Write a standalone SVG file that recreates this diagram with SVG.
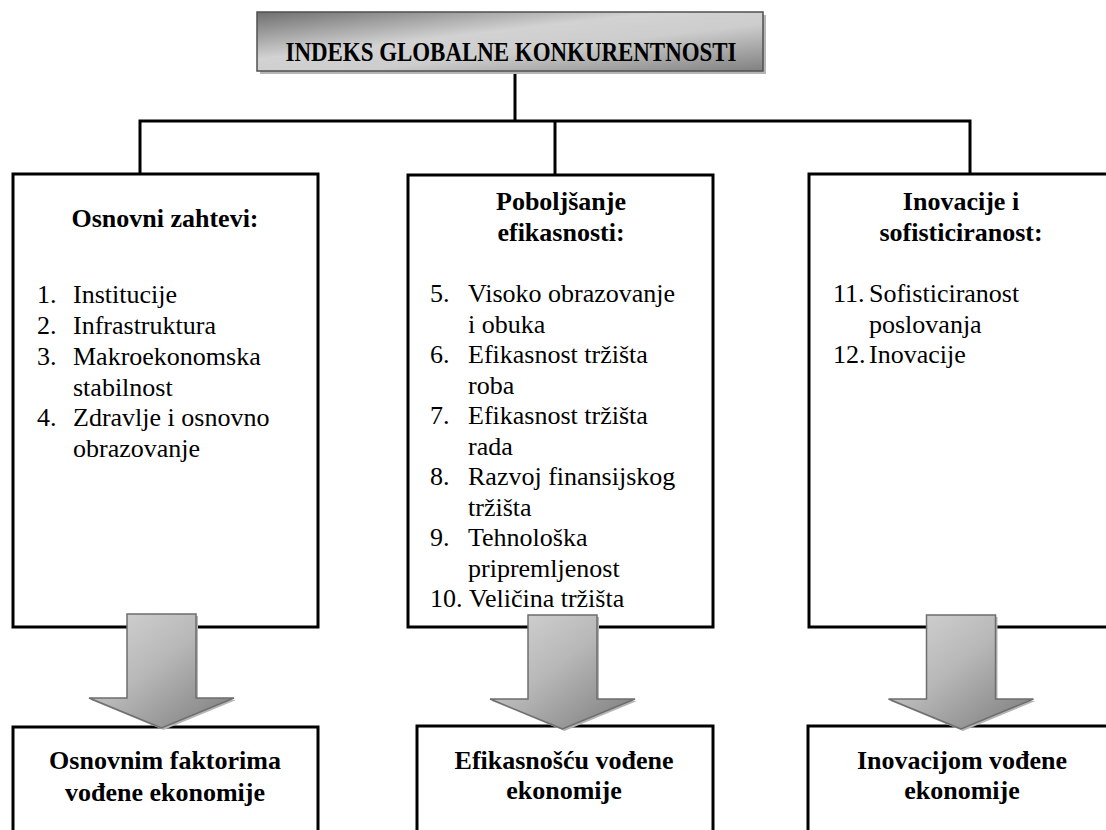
<svg xmlns="http://www.w3.org/2000/svg" width="1106" height="830" viewBox="0 0 1106 830">
<defs>
<linearGradient id="titleGrad" x1="0" y1="0" x2="1" y2="1">
<stop offset="0" stop-color="#6f6f6f"/>
<stop offset="0.4" stop-color="#d2d2d2"/>
<stop offset="0.6" stop-color="#cdcdcd"/>
<stop offset="1" stop-color="#808080"/>
</linearGradient>
<linearGradient id="arrowGrad" x1="0" y1="0" x2="1" y2="1">
<stop offset="0" stop-color="#d6d6d6"/>
<stop offset="0.45" stop-color="#b8b8b8"/>
<stop offset="1" stop-color="#7a7a7a"/>
</linearGradient>
<polygon id="arrowShape" points="-34.5,0 34.5,0 34.5,84 72.5,84 0,114 -72.5,84 -34.5,84"/>
</defs>
<style>
.box{fill:#fff;stroke:#000;stroke-width:3}
.conn{fill:none;stroke:#000;stroke-width:3}
text{font-family:'Liberation Serif','DejaVu Serif',serif}
.hd{font-weight:bold;font-size:26px;fill:#000;text-anchor:middle}
.tx{font-size:26px;fill:#000}
.title{font-weight:bold;font-size:27px;fill:#000;text-anchor:middle}
.arr{fill:url(#arrowGrad);stroke:#6e6e6e;stroke-width:1.5}
.shadow{fill:#b5b5b5}
</style>
<rect width="1106" height="830" fill="#fff"/>

<g id="connectors">
<line class="conn" x1="515" y1="71" x2="515" y2="121"/>
<polyline class="conn" points="140,175 140,121 970,121 970,175"/>
<line class="conn" x1="555" y1="121" x2="555" y2="175"/>
</g>

<g id="title">
<rect x="260" y="15" width="506" height="59" class="shadow"/>
<rect x="257" y="12" width="506" height="59" fill="url(#titleGrad)" stroke="#505050" stroke-width="1.5"/>
<text class="title" x="511" y="61" textLength="451" lengthAdjust="spacingAndGlyphs">INDEKS GLOBALNE KONKURENTNOSTI</text>
</g>

<g id="osnovni">
<rect class="box" x="13" y="174" width="305" height="453"/>
<text class="hd" x="165" y="227">Osnovni zahtevi:</text>
<text class="tx" x="37" y="303">1.</text><text class="tx" x="73" y="303">Institucije</text>
<text class="tx" x="37" y="334">2.</text><text class="tx" x="73" y="334">Infrastruktura</text>
<text class="tx" x="37" y="364.5">3.</text><text class="tx" x="73" y="364.5">Makroekonomska</text>
<text class="tx" x="73" y="395.5">stabilnost</text>
<text class="tx" x="37" y="426">4.</text><text class="tx" x="73" y="426">Zdravlje i osnovno</text>
<text class="tx" x="73" y="457">obrazovanje</text>
</g>

<g id="efikasnost">
<rect class="box" x="408" y="175" width="305" height="452"/>
<text class="hd" x="561" y="210">Poboljšanje</text>
<text class="hd" x="561" y="241">efikasnosti:</text>
<text class="tx" x="430" y="302">5.</text><text class="tx" x="468" y="302">Visoko obrazovanje</text>
<text class="tx" x="468" y="332.5">i obuka</text>
<text class="tx" x="430" y="363">6.</text><text class="tx" x="468" y="363">Efikasnost tržišta</text>
<text class="tx" x="468" y="393.5">roba</text>
<text class="tx" x="430" y="424">7.</text><text class="tx" x="468" y="424">Efikasnost tržišta</text>
<text class="tx" x="468" y="454.5">rada</text>
<text class="tx" x="430" y="485">8.</text><text class="tx" x="468" y="485">Razvoj finansijskog</text>
<text class="tx" x="468" y="515.5">tržišta</text>
<text class="tx" x="430" y="546">9.</text><text class="tx" x="468" y="546">Tehnološka</text>
<text class="tx" x="468" y="576.5">pripremljenost</text>
<text class="tx" x="430" y="607">10.</text><text class="tx" x="469" y="607">Veličina tržišta</text>
</g>

<g id="inovacije">
<rect class="box" x="809" y="174" width="310" height="453"/>
<text class="hd" x="961" y="210">Inovacije i</text>
<text class="hd" x="961" y="241">sofisticiranost:</text>
<text class="tx" x="833" y="302">11.</text><text class="tx" x="869" y="302">Sofisticiranost</text>
<text class="tx" x="869" y="332.5">poslovanja</text>
<text class="tx" x="833" y="363">12.</text><text class="tx" x="869" y="363">Inovacije</text>
</g>

<g id="faktori">
<rect class="box" x="13" y="727" width="305" height="120"/>
<text class="hd" x="165" y="769">Osnovnim faktorima</text>
<text class="hd" x="165" y="801">vođene ekonomije</text>
</g>

<g id="efikasnoscu">
<rect class="box" x="417" y="726" width="296" height="120"/>
<text class="hd" x="564" y="769">Efikasnošću vođene</text>
<text class="hd" x="564" y="799">ekonomije</text>
</g>

<g id="inovacijom">
<rect class="box" x="808" y="726" width="310" height="120"/>
<text class="hd" x="962" y="769">Inovacijom vođene</text>
<text class="hd" x="962" y="799">ekonomije</text>
</g>

<g id="arrows">
<use href="#arrowShape" class="shadow" transform="translate(163.5,616)"/>
<use href="#arrowShape" class="arr" transform="translate(161.5,614)"/>
<use href="#arrowShape" class="shadow" transform="translate(564.5,617)"/>
<use href="#arrowShape" class="arr" transform="translate(562.5,615)"/>
<use href="#arrowShape" class="shadow" transform="translate(963,617)"/>
<use href="#arrowShape" class="arr" transform="translate(961,615)"/>
</g>
</svg>
